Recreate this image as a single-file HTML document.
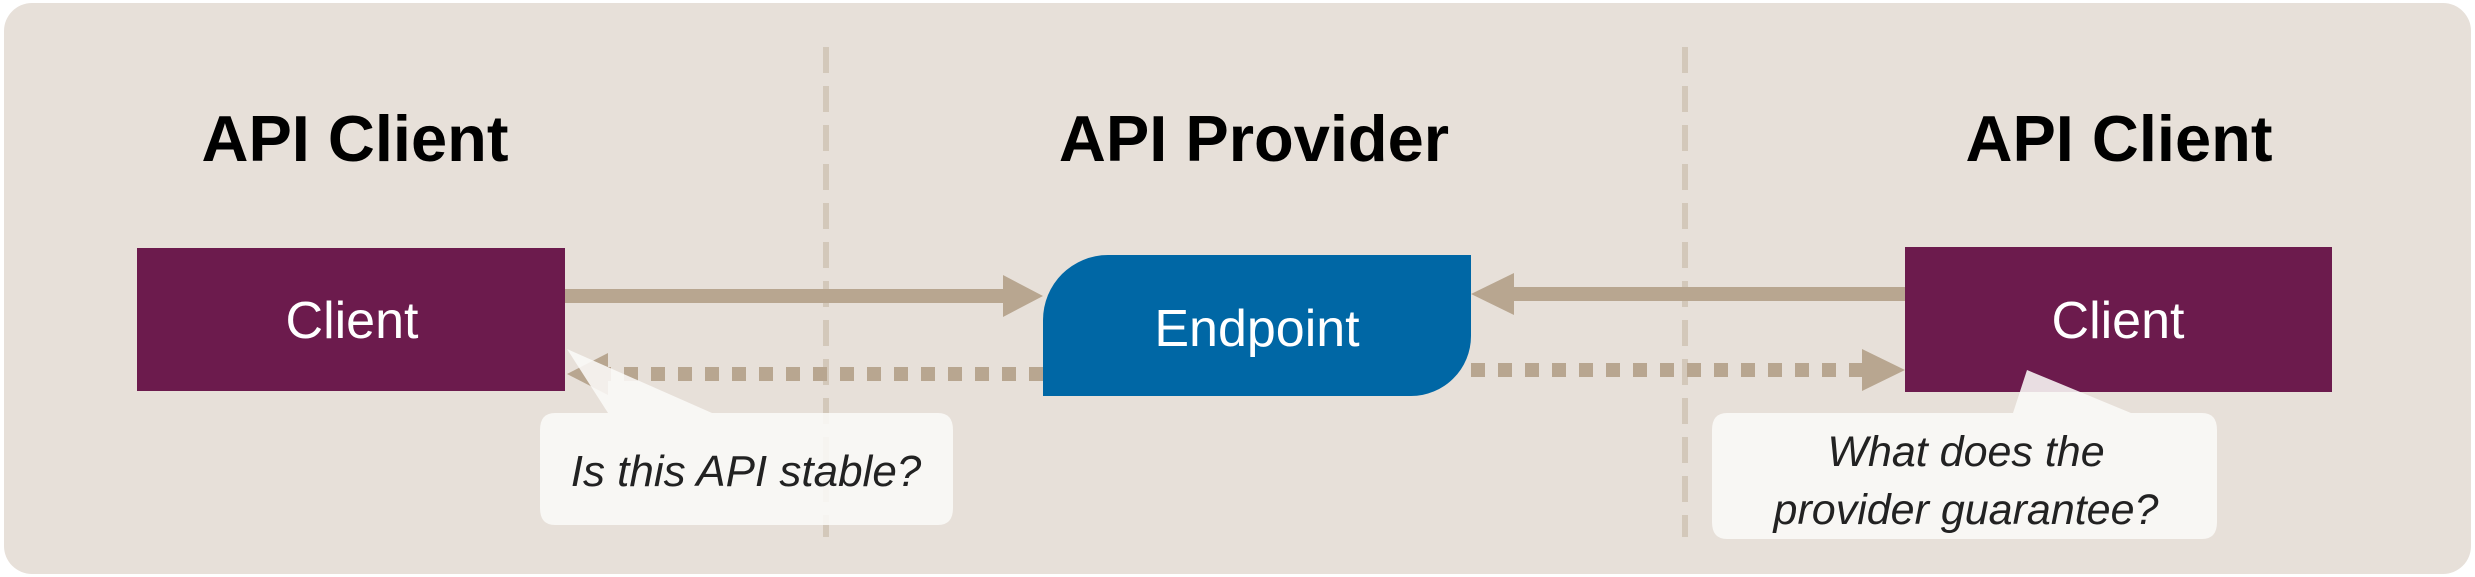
<!DOCTYPE html>
<html><head><meta charset="utf-8"><style>
html,body{margin:0;padding:0;background:#fff;}
svg{display:block;}
text{font-family:"Liberation Sans",Arial,sans-serif;}
</style></head><body>
<svg width="2475" height="577" viewBox="0 0 2475 577" xmlns="http://www.w3.org/2000/svg">
<rect x="4" y="3" width="2467" height="571" rx="28" fill="#e7e0d9"/>
<line x1="826" y1="47" x2="826" y2="537" stroke="#d3c8ba" stroke-width="6" stroke-dasharray="26 13"/>
<line x1="1685" y1="47" x2="1685" y2="537" stroke="#d3c8ba" stroke-width="6" stroke-dasharray="26 13"/>
<text x="355" y="161" font-size="65" font-weight="bold" text-anchor="middle" fill="#000">API Client</text>
<text x="1254" y="161" font-size="65" font-weight="bold" text-anchor="middle" fill="#000">API Provider</text>
<text x="2119" y="161" font-size="65" font-weight="bold" text-anchor="middle" fill="#000">API Client</text>
<rect x="137" y="248" width="428" height="143" fill="#6c1b4d"/>
<text x="352" y="338" font-size="52" text-anchor="middle" fill="#fff">Client</text>
<rect x="1905" y="247" width="427" height="145" fill="#6c1b4d"/>
<text x="2118" y="338" font-size="52" text-anchor="middle" fill="#fff">Client</text>
<path d="M1043 396 V320 A65 65 0 0 1 1108 255 H1471 V336 A60 60 0 0 1 1411 396 Z" fill="#0067a5"/>
<text x="1257" y="346" font-size="52" text-anchor="middle" fill="#fff">Endpoint</text>
<g fill="#b8a690">
<rect x="565" y="289" width="440" height="14"/>
<polygon points="1003,275 1043,296 1003,317"/>
<rect x="1512" y="287" width="393" height="14"/>
<polygon points="1514,273 1471,294 1514,315"/>
<polygon points="608,353 567,374 608,395"/>
<polygon points="1862,349 1905,370 1862,391"/>
</g>
<line x1="1043" y1="374" x2="606" y2="374" stroke="#b8a690" stroke-width="14" stroke-dasharray="14 13"/>
<line x1="1471" y1="370" x2="1864" y2="370" stroke="#b8a690" stroke-width="14" stroke-dasharray="14 13"/>
<path d="M555 413 H608 L567 349 L712 413 H938 Q953 413 953 430 V508 Q953 525 938 525 H555 Q540 525 540 508 V430 Q540 413 555 413 Z" fill="#faf9f7" fill-opacity="0.88"/>
<text x="746" y="486" font-size="44" font-style="italic" text-anchor="middle" fill="#222">Is this API stable?</text>
<path d="M1727 413 H2013 L2027 370 L2131 413 H2202 Q2217 413 2217 430 V522 Q2217 539 2202 539 H1727 Q1712 539 1712 522 V430 Q1712 413 1727 413 Z" fill="#faf9f7" fill-opacity="0.88"/>
<text x="1966" y="466" font-size="43" font-style="italic" text-anchor="middle" fill="#222">What does the</text>
<text x="1966" y="524" font-size="43" font-style="italic" text-anchor="middle" fill="#222">provider guarantee?</text>
</svg>
</body></html>
